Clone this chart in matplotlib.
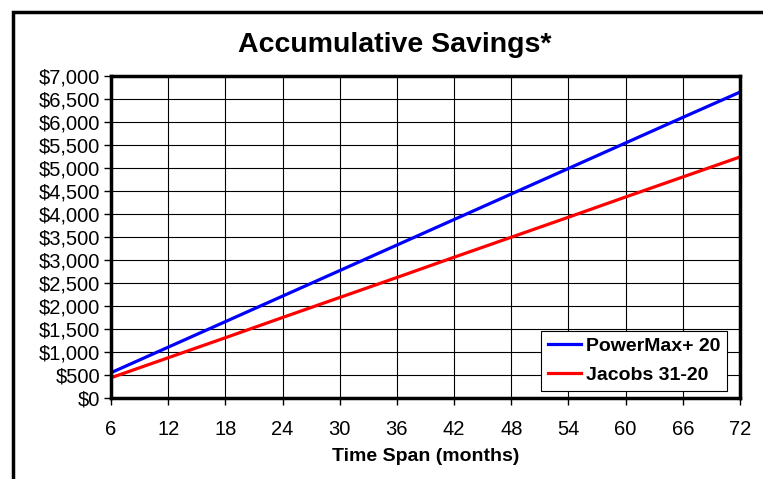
import matplotlib.pyplot as plt
from matplotlib.patches import Rectangle

plt.rcParams['font.family'] = ['Liberation Sans', 'DejaVu Sans']

months = [6, 12, 18, 24, 30, 36, 42, 48, 54, 60, 66, 72]
powermax = [550, 1105, 1660, 2215, 2770, 3325, 3880, 4435, 4990, 5545, 6100, 6650]
jacobs = [440, 875, 1310, 1750, 2185, 2620, 3060, 3495, 3930, 4370, 4805, 5240]
y_ticks = list(range(0, 7001, 500))

W, H = 763, 479
fig = plt.figure(figsize=(W / 100, H / 100), dpi=100)

# outer chart frame (right and bottom edges run off the picture)
fig.patches.append(Rectangle((13 / W, -0.1), 1.2, 1 - 11.5 / H + 0.1,
                             transform=fig.transFigure, fill=False,
                             edgecolor='black', linewidth=2.5))

ax = fig.add_axes([111 / W, 1 - 398 / H, (740 - 111) / W, (398 - 76) / H])
ax.plot(months, powermax, color='#0000ff', lw=2.3, label='PowerMax+ 20')
ax.plot(months, jacobs, color='#ff0000', lw=2.3, label='Jacobs 31-20')

ax.set_xlim(6, 72)
ax.set_ylim(0, 7000)
ax.set_xticks(months)
ax.set_yticks(y_ticks)
ax.set_yticklabels(['${:,}'.format(v) for v in y_ticks])
ax.grid(True, color='black', lw=0.8)
ax.tick_params(direction='out', length=5, width=1, labelsize=14.5)
ax.tick_params(axis='x', pad=11)
ax.tick_params(axis='y', pad=3)
for s in ax.spines.values():
    s.set_linewidth(2.5)

ax.set_xlabel('Time Span (months)', fontsize=14, fontweight='bold', labelpad=6)
fig.text(395 / W, 1 - 45 / H, 'Accumulative Savings*', fontsize=20.5,
         fontweight='bold', ha='center', va='center')

leg = ax.legend(loc='lower right', bbox_to_anchor=(1 - 13 / 629, 7 / 322),
                fancybox=False, framealpha=1, edgecolor='black',
                prop={'weight': 'bold', 'size': 14}, handlelength=1.7,
                borderaxespad=0, labelspacing=0.6, borderpad=0.35,
                handletextpad=0.25)
leg.get_frame().set_linewidth(0.8)

fig.savefig('out.png', dpi=100)
